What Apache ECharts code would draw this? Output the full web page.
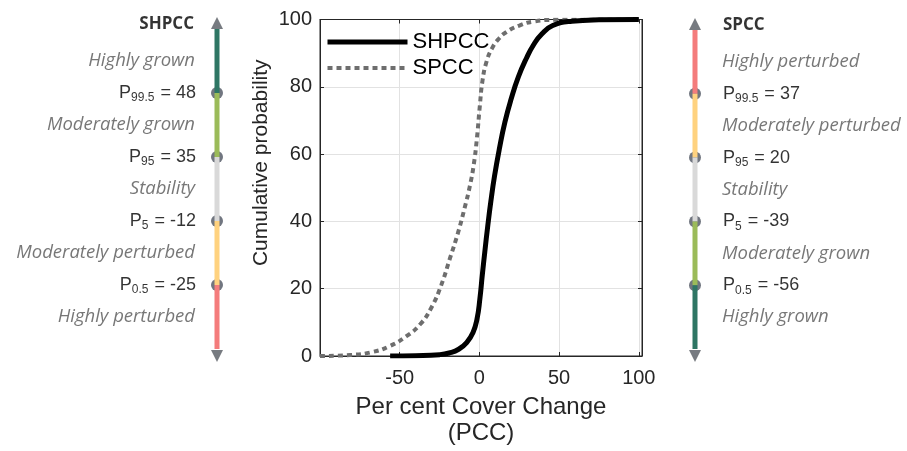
<!DOCTYPE html>
<html>
<head>
<meta charset="utf-8">
<script src="https://cdn.jsdelivr.net/npm/echarts@6/dist/echarts.min.js"></script>
<style>
html, body { margin: 0; padding: 0; background: #fff; }
#chart { width: 907px; height: 451px; }
</style>
</head>
<body>
<div id="chart"></div>
<script>
// cumulative distribution curves (Per cent Cover Change vs cumulative probability)
var shpccX = [-56, -40, -25, -19, -13, -8, -4, -1.5, 0.3, 1.8, 3.4, 5.2, 7.2, 9.5, 12.5, 16, 20, 24.5, 29.5, 34, 39, 46, 58, 75, 100];
var shpccP = [0, 0.1, 0.4, 0.9, 2, 4, 7, 11, 17, 24, 31, 38.5, 46, 53.5, 61.5, 69.5, 76.5, 83, 88.5, 92.5, 95.6, 98.2, 99.5, 99.9, 100];
var spccX = [-100, -81, -67, -56, -46, -37, -30, -24, -18.5, -13.5, -9, -6, -3.5, -1.5, 0.2, 2, 4.5, 8, 12, 17, 25, 34, 48, 100];
var spccP = [0, 0.3, 1.2, 3, 5.8, 9.5, 14.5, 21, 29, 36.5, 44.5, 50.5, 57, 65, 74, 82, 87.5, 91.5, 94.2, 96.3, 98.2, 99.4, 99.9, 100];

// percentile thresholds shown on the side scales
var pctNames = ['99.5', '95', '5', '0.5'];
var shpccPct = [48, 35, -12, -25];
var spccPct = [37, 20, -39, -56];
var shpccClasses = ['Highly grown', 'Moderately grown', 'Stability', 'Moderately perturbed', 'Highly perturbed'];
var spccClasses = ['Highly perturbed', 'Moderately perturbed', 'Stability', 'Moderately grown', 'Highly grown'];
var shpccColors = ['#2e7664', '#9bbb59', '#d9d9d9', '#ffd27f', '#f47c7c'];
var spccColors = ['#f47c7c', '#ffd27f', '#d9d9d9', '#9bbb59', '#2e7664'];

function pairs(xs, ys) {
	var out = [];
	for (var i = 0; i < xs.length; i++) out.push([xs[i], ys[i]]);
	return out;
}

function buildPanel(idx, title, pct, classes, colors, side) {
	var s = [], left = side === 'left';
	var pos = left ? 'left' : 'right';
	for (var i = 0; i < colors.length; i++) {
		s.push({
			type: 'line', xAxisIndex: idx, yAxisIndex: idx, silent: true,
			data: [[0.5, i], [0.5, i + 1]], symbol: 'none',
			lineStyle: { color: colors[i], width: 5 }
		});
	}
	s.push({
		type: 'scatter', xAxisIndex: idx, yAxisIndex: idx, silent: true,
		symbol: 'triangle', symbolSize: [12, 12], clip: false,
		itemStyle: { color: '#555a61' },
		data: [
			{ value: [0.5, 0], symbolOffset: [0, -6] },
			{ value: [0.5, colors.length], symbolRotate: 180, symbolOffset: [0, 7] }
		]
	});
	s.push({
		type: 'scatter', xAxisIndex: idx, yAxisIndex: idx, silent: true,
		symbol: 'circle', symbolSize: 12,
		itemStyle: { color: '#4d5460' },
		data: pct.map(function(v, i) { return [0.5, i + 1]; })
	});
	s.push({
		type: 'scatter', xAxisIndex: idx, yAxisIndex: idx, silent: true, symbolSize: 0,
		data: pct.map(function(v, i) { return { value: [0.5, i + 1], name: pctNames[i] }; }),
		label: {
			show: true, position: pos, distance: left ? 21 : 28,
			formatter: function(p) { return '{p|P}{s|' + p.name + '}{p| = ' + pct[p.dataIndex] + '}'; },
			rich: {
				p: { fontFamily: 'Liberation Sans', fontSize: 18, lineHeight: 22, color: '#000' },
				s: { fontFamily: 'Liberation Sans', fontSize: 12, lineHeight: 12, color: '#000', verticalAlign: 'bottom', padding: [0, 1, 0, 0] }
			}
		}
	});
	s.push({
		type: 'scatter', xAxisIndex: idx, yAxisIndex: idx, silent: true, symbolSize: 0,
		data: classes.map(function(c, i) { return { value: [0.5, i + 0.5], name: c }; }),
		label: {
			show: true, position: pos, distance: left ? 22 : 27,
			formatter: '{b}',
			fontFamily: 'Open Sans', fontStyle: 'italic', fontSize: 18.5, color: '#555'
		}
	});
	s.push({
		type: 'scatter', xAxisIndex: idx, yAxisIndex: idx, silent: true, symbolSize: 0, clip: false,
		data: [{ value: [0.5, -0.07], name: title }],
		label: {
			show: true, position: pos, distance: left ? 23 : 28,
			formatter: '{b}',
			fontFamily: 'Open Sans', fontWeight: 'bold', fontSize: 17, color: '#000'
		}
	});
	return s;
}

var myChart = echarts.init(document.getElementById('chart'));
var axisFont = { fontFamily: 'Liberation Sans', color: '#262626' };
var hiddenX = { type: 'value', min: 0, max: 1, show: false };
var hiddenY = { type: 'value', min: 0, max: 5, inverse: true, show: false };
var spccLine = { color: '#6e6e6e', width: 4, type: [5, 4] };
var shpccLine = { color: '#000', width: 5 };
var inTick = { inside: true, length: 4, lineStyle: { color: '#262626' } };

var series = [
	{
		name: 'SPCC', type: 'line', data: pairs(spccX, spccP),
		symbol: 'none', smooth: 0.5,
		lineStyle: spccLine, itemStyle: { color: '#6e6e6e' }
	},
	{
		name: 'SHPCC', type: 'line', data: pairs(shpccX, shpccP),
		symbol: 'none', smooth: 0.5,
		lineStyle: shpccLine, itemStyle: { color: '#000' }
	}
].concat(
	buildPanel(1, 'SHPCC', shpccPct, shpccClasses, shpccColors, 'left'),
	buildPanel(2, 'SPCC', spccPct, spccClasses, spccColors, 'right')
);

myChart.setOption({
	animation: false,
	grid: [
		{ left: 320, right: 265, top: 19.5, bottom: 94, show: true, borderColor: '#262626', borderWidth: 1, backgroundColor: 'transparent' },
		{ left: 211, width: 12, top: 29, height: 320 },
		{ left: 689, width: 12, top: 30, height: 319 }
	],
	legend: {
		data: [
			{ name: 'SHPCC', lineStyle: shpccLine },
			{ name: 'SPCC', lineStyle: spccLine }
		],
		orient: 'vertical', left: 325, top: 31, padding: 0,
		itemWidth: 80, itemHeight: 14, itemGap: 4,
		itemStyle: { opacity: 0 },
		textStyle: { fontFamily: 'Liberation Sans', fontSize: 22, lineHeight: 22, color: '#000' }
	},
	xAxis: [
		{
			type: 'value', min: -100, max: 102, interval: 50,
			axisLine: { onZero: false, lineStyle: { color: '#262626' } },
			axisTick: inTick,
			axisLabel: Object.assign({ fontSize: 20, margin: 12, showMinLabel: false }, axisFont),
			splitLine: { show: true, lineStyle: { color: '#e2e2e2' } },
			name: 'Per cent Cover Change\n(PCC)', nameLocation: 'middle', nameGap: 38,
			nameTextStyle: Object.assign({ fontSize: 24, lineHeight: 26 }, axisFont)
		},
		Object.assign({ gridIndex: 1 }, hiddenX),
		Object.assign({ gridIndex: 2 }, hiddenX),
		{
			gridIndex: 0, type: 'value', position: 'top', min: -100, max: 102, interval: 50,
			axisLine: { onZero: false, lineStyle: { color: '#262626' } },
			axisTick: inTick, axisLabel: { show: false }, splitLine: { show: false }
		}
	],
	yAxis: [
		{
			type: 'value', min: 0, max: 100, interval: 20,
			axisLine: { onZero: false, lineStyle: { color: '#262626' } },
			axisTick: inTick,
			axisLabel: Object.assign({ fontSize: 20, margin: 8 }, axisFont),
			splitLine: { show: true, lineStyle: { color: '#e2e2e2' } },
			name: 'Cumulative probability', nameLocation: 'middle', nameGap: 48,
			nameTextStyle: Object.assign({ fontSize: 21, padding: [0, 0, 0, 50] }, axisFont)
		},
		Object.assign({ gridIndex: 1 }, hiddenY),
		Object.assign({ gridIndex: 2 }, hiddenY),
		{
			gridIndex: 0, type: 'value', position: 'right', min: 0, max: 100, interval: 20,
			axisLine: { onZero: false, lineStyle: { color: '#262626' } },
			axisTick: inTick, axisLabel: { show: false }, splitLine: { show: false }
		}
	],
	series: series
});
</script>
</body>
</html>
